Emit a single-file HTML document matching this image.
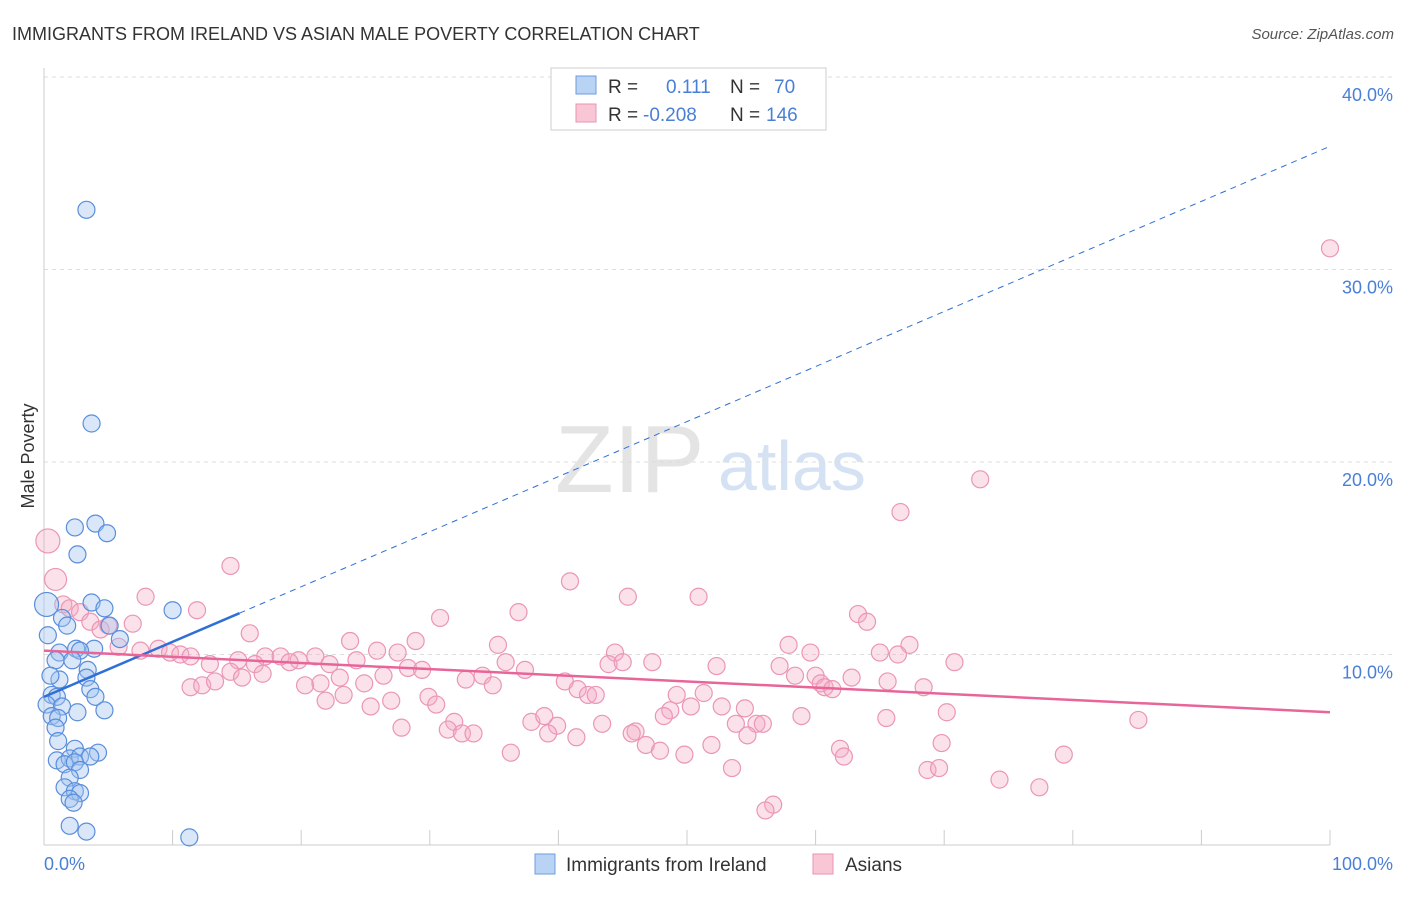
<!DOCTYPE html>
<html><head><meta charset="utf-8"><style>
body{margin:0;background:#fff;font-family:"Liberation Sans",sans-serif}
svg text{font-family:"Liberation Sans",sans-serif}
</style></head><body>
<svg width="1406" height="892">
<text x="12" y="40" font-size="18" fill="#333">IMMIGRANTS FROM IRELAND VS ASIAN MALE POVERTY CORRELATION CHART</text>
<text x="1394" y="39" font-size="15" fill="#555" text-anchor="end" font-style="italic">Source: ZipAtlas.com</text>
<text x="555" y="492" font-size="96" fill="#e4e4e4" font-family="Liberation Serif">ZIP</text>
<text x="718" y="490" font-size="70" fill="#d4e2f4">atlas</text>
<g id="grid"></g>
<g id="axes"></g>
<text transform="translate(34,456) rotate(-90)" font-size="18" fill="#333" text-anchor="middle">Male Poverty</text>
<g id="pts"></g>
<g id="lines"></g>
<g>
<rect x="551" y="68" width="275" height="62" fill="#fff" stroke="#ccc"/>
<rect x="576" y="76" width="20" height="18" fill="#b9d3f4" stroke="#6f9be0"/>
<rect x="576" y="104" width="20" height="18" fill="#f9c6d6" stroke="#eb94b2"/>
<text x="608" y="93" font-size="19" fill="#333">R =</text>
<text x="666" y="93" font-size="19" fill="#4a7fd6">0.111</text>
<text x="730" y="93" font-size="19" fill="#333">N =</text>
<text x="774" y="93" font-size="19" fill="#4a7fd6">70</text>
<text x="608" y="121" font-size="19" fill="#333">R =</text>
<text x="643" y="121" font-size="19" fill="#4a7fd6">-0.208</text>
<text x="730" y="121" font-size="19" fill="#333">N =</text>
<text x="766" y="121" font-size="19" fill="#4a7fd6">146</text>
</g>
<g>
<rect x="535" y="854" width="20" height="20" fill="#b9d3f4" stroke="#6f9be0"/>
<text x="566" y="871" font-size="19" fill="#333">Immigrants from Ireland</text>
<rect x="813" y="854" width="20" height="20" fill="#f9c6d6" stroke="#eb94b2"/>
<text x="845" y="871" font-size="19" fill="#333">Asians</text>
</g>
</svg>
<script>
const yTicks=[10,20,30,40];
const yTickLabels=["10.0%","20.0%","30.0%","40.0%"];
const xTickLabels=["0.0%","100.0%"];
const blueX=[3.3,3.7,2.4,4.0,4.9,2.6,10.0,3.7,4.7,1.4,1.8,5.1,0.3,5.9,2.5,3.9,1.2,2.8,2.2,0.9,3.4,3.3,1.2,0.5,3.6,4.0,0.6,1.0,0.2,1.4,4.7,2.6,0.6,1.1,0.9,1.1,2.4,4.2,1.0,2.0,2.8,3.6,1.6,2.4,2.8,2.0,1.6,2.4,2.8,2.0,2.3,2.0,3.3,11.3,0.2];
const blueY=[33.1,22.0,16.6,16.8,16.3,15.2,12.3,12.7,12.4,11.9,11.5,11.5,11.0,10.8,10.3,10.3,10.1,10.2,9.7,9.7,9.2,8.8,8.7,8.9,8.2,7.8,7.9,7.8,7.4,7.3,7.1,7.0,6.8,6.7,6.2,5.5,5.1,4.9,4.5,4.6,4.7,4.7,4.3,4.4,4.0,3.6,3.1,2.9,2.8,2.5,2.3,1.1,0.8,0.5,12.6];
const pinkX=[100,72.8,66.6,0.3,0.9,14.5,40.9,45.4,50.9,7.9,1.5,2.0,2.8,11.9,36.9,30.8,63.3,64.0,3.6,4.4,6.9,5.0,16.0,23.8,28.9,35.3,57.9,67.3,59.6,65.0,66.4,5.8,8.9,7.5,9.8,10.6,11.4,17.2,18.4,19.8,21.1,25.9,27.5,44.4,12.9,15.1,16.4,19.1,22.2,24.3,28.3,29.4,35.9,37.4,43.9,45.0,47.3,52.3,57.2,70.8,14.5,17.0,23.0,26.4,32.8,34.1,40.5,58.4,60.0,60.4,62.8,65.6,11.4,12.3,13.3,15.4,20.3,21.5,24.9,34.9,41.5,42.3,42.9,49.2,51.3,60.7,61.3,68.4,21.9,23.3,27.0,29.9,30.5,25.4,48.7,50.3,52.7,54.5,31.9,37.9,38.9,39.9,39.2,43.4,46.0,48.2,53.8,55.4,55.9,58.9,65.5,70.2,85.1,27.8,31.4,32.5,33.4,41.4,45.7,54.7,46.8,47.9,51.9,61.9,62.2,69.8,36.3,49.8,79.3,53.5,68.7,69.6,74.3,77.4,56.7,56.1];
const pinkY=[31.1,19.1,17.4,15.9,13.9,14.6,13.8,13.0,13.0,13.0,12.6,12.4,12.2,12.3,12.2,11.9,12.1,11.7,11.7,11.3,11.6,11.5,11.1,10.7,10.7,10.5,10.5,10.5,10.1,10.1,10.0,10.4,10.3,10.2,10.1,10.0,9.9,9.9,9.9,9.7,9.9,10.2,10.1,10.1,9.5,9.7,9.5,9.6,9.5,9.7,9.3,9.2,9.6,9.2,9.5,9.6,9.6,9.4,9.4,9.6,9.1,9.0,8.8,8.9,8.7,8.9,8.6,8.9,8.9,8.5,8.8,8.6,8.3,8.4,8.6,8.8,8.4,8.5,8.5,8.4,8.2,7.9,7.9,7.9,8.0,8.3,8.2,8.3,7.6,7.9,7.6,7.8,7.4,7.3,7.1,7.3,7.3,7.2,6.5,6.5,6.8,6.3,5.9,6.4,6.0,6.8,6.4,6.4,6.4,6.8,6.7,7.0,6.6,6.2,6.1,5.9,5.9,5.7,5.9,5.8,5.3,5.0,5.3,5.1,4.7,5.4,4.9,4.8,4.8,4.1,4.0,4.1,3.5,3.1,2.2,1.9];
const blueTrend=[7.8,36.4], blueSolidEnd=15.2;
const pinkTrend=[10.2,7.0];
const NS="http://www.w3.org/2000/svg";
const X=v=>44+v*12.86, Y=v=>847-v*19.25;
function mk(t,a,p){const e=document.createElementNS(NS,t);for(const k in a)e.setAttribute(k,a[k]);p.appendChild(e);return e;}
const grid=document.getElementById('grid'),axes=document.getElementById('axes');
yTicks.forEach((t,i)=>{
 const l=mk('line',{x1:44,x2:1393,y1:Y(t),y2:Y(t),stroke:'#ddd','stroke-dasharray':'4,4'},grid);
 
 
 const tx=mk('text',{x:1393,y:Y(t)+24,'font-size':18,fill:'#4a7fd6','text-anchor':'end'},axes);
 tx.textContent=yTickLabels[i];
 
 
});
const xa=mk('line',{x1:44,x2:1330,y1:845,y2:845,stroke:'#ccc'},axes);


const ya=mk('line',{x1:44,x2:44,y1:68,y2:845,stroke:'#ccc'},axes);


for(let i=0;i<=10;i++){const t=mk('line',{x1:X(i*10),x2:X(i*10),y1:830,y2:845,stroke:'#ccc'},axes);
 
 }
[[0,'start',44],[100,'end',1393]].forEach((d,i)=>{const t=mk('text',{x:d[2],y:870,'font-size':18,fill:'#4a7fd6','text-anchor':d[1]},axes);t.textContent=xTickLabels[i];
 
 });
const pts=document.getElementById('pts');
pinkX.forEach((x,i)=>{const r=(i===3?12:i===4?11:8.5);const c=mk('circle',{cx:X(x),cy:Y(pinkY[i]),r:r,fill:'rgba(244,170,196,0.35)',stroke:'#eb96b5','stroke-width':1.2},pts);
 
 });
blueX.forEach((x,i)=>{const r=(i===blueX.length-1?12:8.5);const c=mk('circle',{cx:X(x),cy:Y(blueY[i]),r:r,fill:'rgba(160,196,240,0.4)',stroke:'#5a8edc','stroke-width':1.2},pts);
 
 });
const ln=document.getElementById('lines');
const bAt=x=>blueTrend[0]+(blueTrend[1]-blueTrend[0])*x/100;
const b1=mk('line',{x1:X(0),y1:Y(bAt(0)),x2:X(blueSolidEnd),y2:Y(bAt(blueSolidEnd)),stroke:'#2f6fd6','stroke-width':2.5},ln);


const b2=mk('line',{x1:X(blueSolidEnd),y1:Y(bAt(blueSolidEnd)),x2:X(100),y2:Y(bAt(100)),stroke:'#2f6fd6','stroke-width':1,'stroke-dasharray':'6,5'},ln);


const p1=mk('line',{x1:X(0),y1:Y(pinkTrend[0]),x2:X(100),y2:Y(pinkTrend[1]),stroke:'#e8659a','stroke-width':2.5},ln);


</script>
</body></html>
